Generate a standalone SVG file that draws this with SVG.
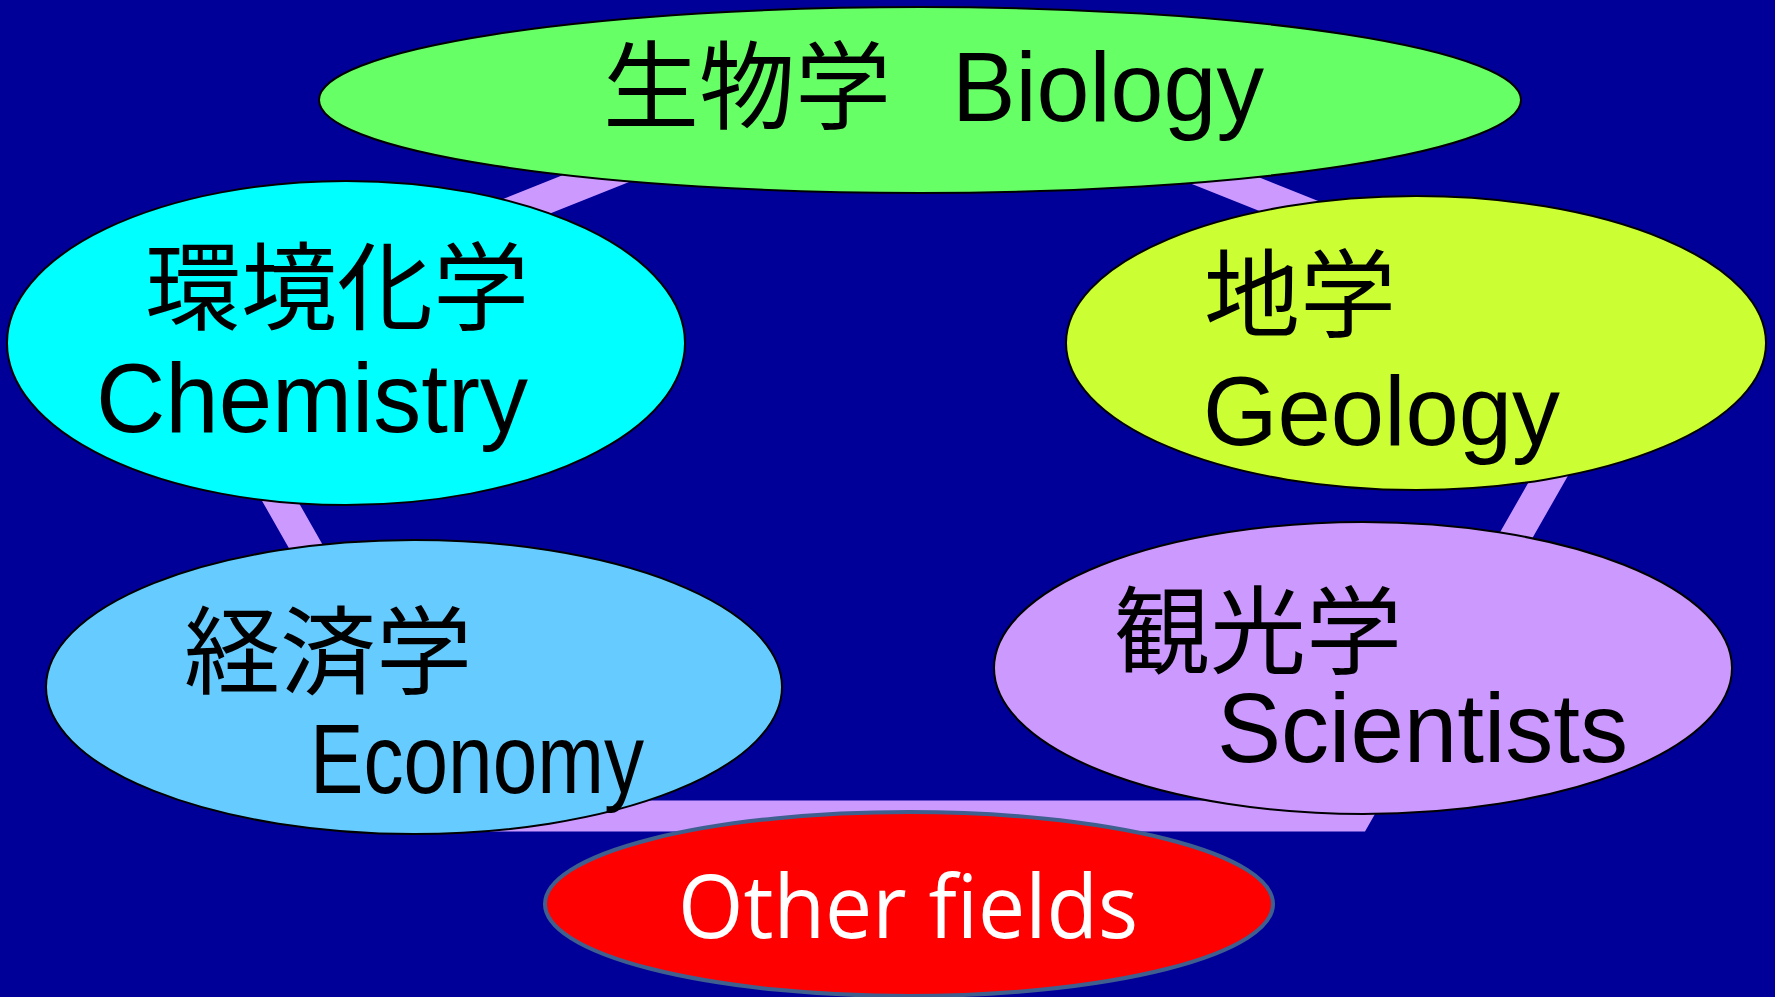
<svg xmlns="http://www.w3.org/2000/svg" width="1775" height="997" viewBox="0 0 1775 997">
<style>
.node{stroke:#000;stroke-width:2}
.jp{font-family:"Noto Sans CJK JP","Noto Sans CJK SC",sans-serif;font-size:96px;fill:#000}
.en{font-family:"Liberation Sans",Arial,sans-serif;font-size:98px;fill:#000}
.other{font-family:"Open Sans","Lato",sans-serif;font-size:88px;fill:#fff}
</style>
<rect width="1775" height="997" fill="#000099"/>
<g id="connectors">
<polygon points="908,54 1627,341 1356,816 459,816 189,341" fill="none" stroke="#CC99FF" stroke-width="31" stroke-linejoin="miter"/>
</g>
<g id="biology">
<ellipse class="node" cx="920" cy="100" rx="601" ry="93" fill="#66FF66"/>
<text class="jp" x="603" y="121">生物学</text>
<text class="en" x="952" y="121" textLength="312" lengthAdjust="spacingAndGlyphs">Biology</text>
</g>
<g id="chemistry">
<ellipse class="node" cx="346" cy="343" rx="339" ry="162" fill="#00FFFF"/>
<text class="jp" x="145" y="322">環境化学</text>
<text class="en" x="96" y="432" textLength="432" lengthAdjust="spacingAndGlyphs">Chemistry</text>
</g>
<g id="geology">
<ellipse class="node" cx="1416" cy="343" rx="350" ry="147" fill="#CCFF33"/>
<text class="jp" x="1204" y="329">地学</text>
<text class="en" x="1203" y="445" textLength="357" lengthAdjust="spacingAndGlyphs">Geology</text>
</g>
<g id="economy">
<ellipse class="node" cx="414" cy="687" rx="368" ry="147" fill="#66CCFF"/>
<text class="jp" x="184" y="686">経済学</text>
<text class="en" x="310" y="793" textLength="334" lengthAdjust="spacingAndGlyphs">Economy</text>
</g>
<g id="tourism">
<ellipse class="node" cx="1363" cy="668" rx="369" ry="146" fill="#CC99FF"/>
<text class="jp" x="1114" y="666">観光学</text>
<text class="en" x="1217" y="762" textLength="411" lengthAdjust="spacingAndGlyphs">Scientists</text>
</g>
<g id="other">
<ellipse cx="909" cy="904" rx="364" ry="92" fill="#FF0000" stroke="#3F5F8F" stroke-width="4"/>
<text class="other" x="678" y="938" textLength="460" lengthAdjust="spacingAndGlyphs">Other fields</text>
</g>
</svg>
